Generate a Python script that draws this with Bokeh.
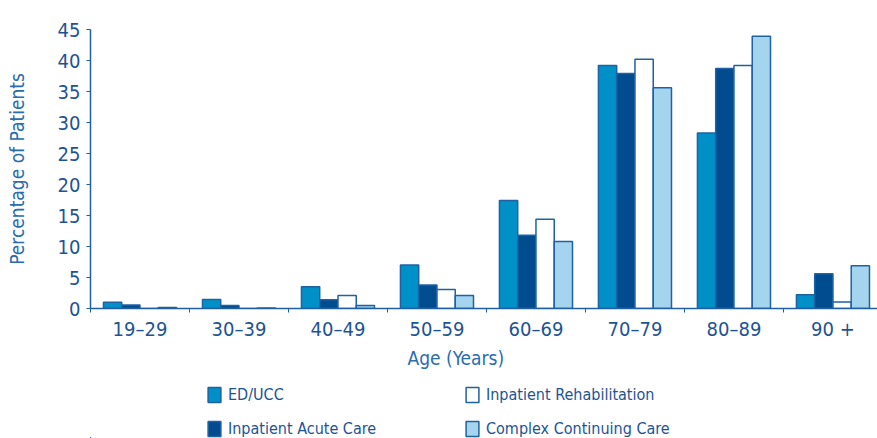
from bokeh.plotting import figure
from bokeh.models import ColumnDataSource, Range1d, FixedTicker, Legend, LegendItem, Title
from bokeh.layouts import column
from bokeh.transform import dodge
from bokeh.embed import file_html
from bokeh.resources import INLINE

categories = ["19–29", "30–39", "40–49", "50–59", "60–69", "70–79", "80–89", "90 +"]
ed_ucc = [1.0, 1.45, 3.5, 7.0, 17.4, 39.2, 28.3, 2.2]
acute = [0.55, 0.5, 1.4, 3.8, 11.8, 37.9, 38.7, 5.6]
rehab = [0.0, 0.0, 2.1, 3.05, 14.4, 40.2, 39.2, 1.05]
ccc = [0.15, 0.1, 0.5, 2.1, 10.8, 35.6, 43.9, 6.9]
series_names = ["ED/UCC", "Inpatient Acute Care", "Inpatient Rehabilitation", "Complex Continuing Care"]
y_ticks = [0, 5, 10, 15, 20, 25, 30, 35, 40, 45]

FONT = "DejaVu Sans Condensed"
TEXT = "#1d5394"
AXIS = "#2060a0"
OUT = "#1f62a3"
fills = ["#0090c8", "#004c8e", "#ffffff", "#a5d5ee"]
cols = ["ed", "ac", "rh", "cc"]

centers = [i + 0.5 for i in range(len(categories))]
src = ColumnDataSource(dict(x=centers, ed=ed_ucc, ac=acute, rh=rehab, cc=ccc))

p = figure(width=877, height=375, output_backend="svg", toolbar_location=None,
           x_range=Range1d(0, 7.95), y_range=Range1d(0, 45),
           min_border_left=90, min_border_right=0, min_border_top=29, min_border_bottom=67)
p.outline_line_color = None
p.xgrid.visible = False
p.ygrid.visible = False

bw = 0.1845
offs = [-1.5 * bw, -0.5 * bw, 0.5 * bw, 1.5 * bw]
for col, off, fc in zip(cols, offs, fills):
    p.vbar(x=dodge("x", off, range=p.x_range), top=col, width=bw, bottom=0, source=src,
           fill_color=fc, line_color=OUT, line_width=1.5)

ya = p.yaxis[0]
ya.ticker = FixedTicker(ticks=y_ticks)
ya.axis_label = "Percentage of Patients"
ya.major_tick_out = 4
ya.major_tick_in = 0
ya.major_label_standoff = 6

xa = p.xaxis[0]
xa.ticker = FixedTicker(ticks=centers, minor_ticks=list(range(0, 9)))
xa.major_label_overrides = {c: lab for c, lab in zip(centers, categories)}
xa.minor_tick_out = 4
xa.minor_tick_in = 0
xa.major_label_standoff = 2

for ax in [xa, ya]:
    ax.axis_line_color = AXIS
    ax.axis_line_width = 1.5
    ax.major_label_text_font = FONT
    ax.major_label_text_font_size = "20px"
    ax.major_label_text_color = TEXT
    ax.axis_label_text_font = FONT
    ax.axis_label_text_font_size = "19px"
    ax.axis_label_text_color = "#2a6cae"
    ax.axis_label_text_font_style = "normal"
ya.major_tick_line_color = AXIS
ya.minor_tick_line_color = None
xa.major_tick_line_color = None
xa.minor_tick_line_color = AXIS
ya.axis_label_standoff = 27

xtitle = Title(text="Age (Years)", align="left", offset=317, standoff=3,
               text_font=FONT, text_font_size="19px", text_font_style="normal",
               text_color="#2a6cae")
p.add_layout(xtitle, "below")

# legend panel (uses the same data source; its ranges keep the bars out of view)
p2 = figure(width=877, height=63, output_backend="svg", toolbar_location=None,
            x_range=Range1d(100, 101), y_range=Range1d(100, 101),
            x_axis_location=None, y_axis_location=None,
            min_border_left=0, min_border_right=0, min_border_top=0, min_border_bottom=0)
p2.grid.visible = False
p2.outline_line_color = None
proxies = []
for col, fc in zip(cols, fills):
    proxies.append(p2.vbar(x="x", top=col, width=0.1, source=src,
                           fill_color=fc, line_color=OUT, line_width=1.5))

items = [LegendItem(label=series_names[i], renderers=[proxies[i]], index=0) for i in range(4)]
leg = Legend(items=items, ncols=2, location=(116, 0),
             glyph_width=16, glyph_height=19, label_standoff=6, label_width=222,
             label_height=20, spacing=14, padding=0, margin=0,
             border_line_color=None, background_fill_alpha=0,
             label_text_font=FONT, label_text_font_size="16px", label_text_color=TEXT)
p2.add_layout(leg)

open("out.html", "w").write(file_html(column(p, p2, spacing=0), INLINE))
